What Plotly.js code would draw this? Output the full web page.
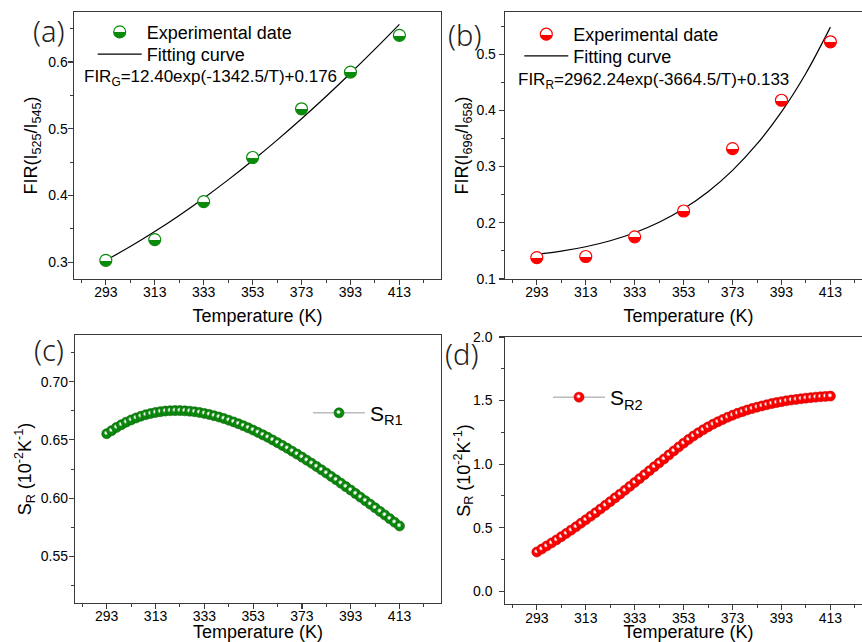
<!DOCTYPE html>
<html><head><meta charset="utf-8">
<script src="https://cdn.plot.ly/plotly-3.0.1.min.js"></script>
<style>html,body{margin:0;padding:0;overflow:hidden;background:#fff}#chart{width:880px;height:642px}</style>
</head><body><div id="chart"></div>
<script>
// ---- data ----
const tempTicks = [293,313,333,353,373,393,413];
const tempExp = [293,313,333,353,373,393,413];
const firG = [0.303,0.334,0.391,0.457,0.530,0.585,0.640];
const firR = [0.138,0.140,0.175,0.221,0.332,0.418,0.522];
const tempFit = [293,303,313,323,333,343,353,363,373,383,393,403,413];
const fitG = [0.3029,0.3236,0.3461,0.3703,0.3961,0.4235,0.4525,0.4831,0.5151,0.5485,0.5833,0.6193,0.6565];
const fitR = [0.1440,0.1496,0.1574,0.1680,0.1823,0.2009,0.2249,0.2553,0.2933,0.3402,0.3973,0.4661,0.5481];
const tempS = [293,295,297,299,301,303,305,307,309,311,313,315,317,319,321,323,325,327,329,331,333,335,337,339,341,343,345,347,349,351,353,355,357,359,361,363,365,367,369,371,373,375,377,379,381,383,385,387,389,391,393,395,397,399,401,403,405,407,409,411,413];
const sr1 = [0.6553,0.6579,0.6607,0.6630,0.6652,0.6671,0.6688,0.6703,0.6716,0.6726,0.6735,0.6742,0.6747,0.6750,0.6751,0.6751,0.6749,0.6746,0.6741,0.6735,0.6727,0.6718,0.6707,0.6696,0.6683,0.6669,0.6654,0.6638,0.6621,0.6603,0.6584,0.6564,0.6543,0.6522,0.6499,0.6476,0.6452,0.6428,0.6403,0.6378,0.6352,0.6325,0.6299,0.6271,0.6243,0.6215,0.6186,0.6158,0.6128,0.6099,0.6069,0.6039,0.6008,0.5978,0.5948,0.5917,0.5886,0.5855,0.5824,0.5793,0.5761];
const sr2 = [0.309,0.332,0.356,0.380,0.404,0.429,0.455,0.481,0.507,0.535,0.562,0.590,0.618,0.647,0.676,0.705,0.735,0.764,0.794,0.825,0.855,0.886,0.917,0.948,0.979,1.010,1.041,1.073,1.104,1.135,1.165,1.194,1.221,1.246,1.270,1.293,1.314,1.333,1.351,1.369,1.385,1.400,1.413,1.426,1.437,1.448,1.458,1.467,1.476,1.484,1.491,1.498,1.504,1.509,1.514,1.519,1.523,1.527,1.530,1.533,1.535];

const GREEN = '#0a8a0a', RED = '#ff0000';
const FONT = 'Liberation Sans, Arial, Helvetica, sans-serif';
const W = 880, H = 642;
const px = v => v / W, py = v => 1 - v / H;

const traces = [
  {x: tempFit, y: fitG, mode:'lines', line:{color:'#000', width:1.2, shape:'spline'}, name:'Fitting curve', xaxis:'x', yaxis:'y', legend:'legend5'},
  {x: tempExp, y: firG, mode:'markers', name:'Experimental date', xaxis:'x', yaxis:'y', legend:'legend',
   marker:{size:12, color:'#ffffff', line:{color:GREEN, width:1.2}, gradient:{type:'vertical', color:GREEN}}},
  {x: tempFit, y: fitR, mode:'lines', line:{color:'#000', width:1.2, shape:'spline'}, name:'Fitting curve', xaxis:'x2', yaxis:'y2', legend:'legend6'},
  {x: tempExp, y: firR, mode:'markers', name:'Experimental date', xaxis:'x2', yaxis:'y2', legend:'legend2',
   marker:{size:12, color:'#ffffff', line:{color:RED, width:1.2}, gradient:{type:'vertical', color:RED}}},
  {x: tempS, y: sr1, mode:'lines+markers', name:'S<sub>R1</sub>', xaxis:'x3', yaxis:'y3', legend:'legend3',
   line:{color:'#999', width:1}, marker:{size:10, color:GREEN, line:{color:'#0b5e0b', width:0.6}, gradient:{type:'radial', color:'#ffffff'}}},
  {x: tempS, y: sr2, mode:'lines+markers', name:'S<sub>R2</sub>', xaxis:'x4', yaxis:'y4', legend:'legend4',
   line:{color:'#999', width:1}, marker:{size:10, color:RED, line:{color:'#c80000', width:0.6}, gradient:{type:'radial', color:'#ffffff'}}}
];

function xAx(dom, anchor){
  return {domain:dom, anchor:anchor, range:[280,430], tickmode:'array', tickvals:tempTicks, ticktext:tempTicks.map(String),
    showline:true, linecolor:'#3a3a3a', linewidth:1.3, mirror:true, ticks:'outside', ticklen:5, tickwidth:1.2, tickcolor:'#3a3a3a',
    showgrid:false, zeroline:false, tickfont:{family:FONT, size:14, color:'#000'},
    minor:{ticks:'outside', ticklen:3, tickwidth:1, tickcolor:'#3a3a3a', tick0:283, dtick:10, showgrid:false},
    title:{text:'Temperature (K)', font:{family:FONT, size:18, color:'#000'}, standoff:5}};
}
function yAx(dom, anchor, range, dtick, minorD, fmt, title, standoff){
  return {domain:dom, anchor:anchor, range:range, tick0:0, dtick:dtick, tickformat:fmt,
    showline:true, linecolor:'#3a3a3a', linewidth:1.3, mirror:true, ticks:'outside', ticklen:5, tickwidth:1.2, tickcolor:'#3a3a3a',
    showgrid:false, zeroline:false, tickfont:{family:FONT, size:14, color:'#000'},
    minor:{ticks:'outside', ticklen:3, tickwidth:1, tickcolor:'#3a3a3a', dtick:minorD, showgrid:false},
    title:{text:title, font:{family:FONT, size:18, color:'#000'}, standoff:standoff}};
}
const lg = (x, y, size, w) => ({x:px(x), y:py(y), xanchor:'left', yanchor:'top', bgcolor:'rgba(0,0,0,0)',
  borderwidth:0, font:{family:FONT, size:size, color:'#000'}, tracegroupgap:0, itemwidth:w});

const labelFont = {family:'Noto Sans, sans-serif', size:29, weight:300, color:'#222'};
const layout = {
  width:W, height:H, margin:{l:0, r:0, t:0, b:0}, paper_bgcolor:'#fff', plot_bgcolor:'#fff', showlegend:true,
  xaxis: xAx([px(74), px(441)], 'y'),
  yaxis: yAx([py(279), py(12)], 'x', [0.275,0.675], 0.1, 0.05, '.1f', 'FIR(I<sub>525</sub>/I<sub>545</sub>)', 3),
  xaxis2: xAx([px(505), px(872)], 'y2'),
  yaxis2: yAx([py(279), py(12)], 'x2', [0.1,0.575], 0.1, 0.05, '.1f', 'FIR(I<sub>696</sub>/I<sub>658</sub>)', 3),
  xaxis3: xAx([px(75), px(441)], 'y3'),
  yaxis3: yAx([py(603), py(335)], 'x3', [0.51,0.74], 0.05, 0.025, '.2f', 'S<sub>R</sub> (10<sup>-2</sup>K<sup>-1</sup>)', 2),
  xaxis4: xAx([px(505), px(872)], 'y4'),
  yaxis4: yAx([py(604), py(337)], 'x4', [-0.1,2.0], 0.5, 0.25, '.1f', 'S<sub>R</sub> (10<sup>-2</sup>K<sup>-1</sup>)', 0),
  legend:  lg(92.7, 13.7, 18, 44),
  legend5: lg(92.7, 36, 18, 44),
  legend2: lg(519.3, 16, 18, 44),
  legend6: lg(519.3, 37.7, 18, 44),
  legend3: lg(308, 392.7, 21, 52),
  legend4: lg(548, 377, 21, 52),
  annotations: [
    {text:'(a)', x:px(31), y:py(30), xref:'paper', yref:'paper', xanchor:'left', yanchor:'middle', showarrow:false, font:labelFont},
    {text:'(b)', x:px(446), y:py(34), xref:'paper', yref:'paper', xanchor:'left', yanchor:'middle', showarrow:false, font:labelFont},
    {text:'(c)', x:px(32), y:py(350), xref:'paper', yref:'paper', xanchor:'left', yanchor:'middle', showarrow:false, font:labelFont},
    {text:'(d)', x:px(443), y:py(353), xref:'paper', yref:'paper', xanchor:'left', yanchor:'middle', showarrow:false, font:labelFont},
    {text:'FIR<sub>G</sub>=12.40exp(-1342.5/T)+0.176', x:px(82), y:py(78), xref:'paper', yref:'paper', xanchor:'left', yanchor:'middle', showarrow:false, font:{family:FONT, size:17, color:'#000'}},
    {text:'FIR<sub>R</sub>=2962.24exp(-3664.5/T)+0.133', x:px(516), y:py(81), xref:'paper', yref:'paper', xanchor:'left', yanchor:'middle', showarrow:false, font:{family:FONT, size:17, color:'#000'}}
  ]
};

// where the reference puts its tick labels (pixels): x-label centres and y-label right edges
const xLabelCentre = {xtick:291.7, x2tick:291.7, x3tick:616, x4tick:617.5};
const yLabelRight  = {ytick:68, y2tick:496, y3tick:68.3, y4tick:492.7};

function rebuild(g, stops){
  while (g.firstChild) g.removeChild(g.firstChild);
  stops.forEach(s => {
    const e = document.createElementNS('http://www.w3.org/2000/svg','stop');
    e.setAttribute('offset', (s[0]*100)+'%'); e.setAttribute('stop-color', s[1]); g.appendChild(e);
  });
  g.setAttribute('data-fixed','1');
}
function polish(){
  const gd = document.getElementById('chart');
  gd.querySelectorAll('linearGradient').forEach(g => {
    if (g.getAttribute('data-fixed')) return;
    const st = g.querySelectorAll('stop'); if (st.length < 2) return;
    const c0 = st[0].getAttribute('stop-color'), c1 = st[st.length-1].getAttribute('stop-color');
    rebuild(g, [[0,c0],[0.47,c0],[0.47,c1],[1,c1]]);
  });
  gd.querySelectorAll('radialGradient').forEach(g => {
    if (g.getAttribute('data-fixed')) return;
    const st = g.querySelectorAll('stop'); if (st.length < 2) return;
    const c0 = st[0].getAttribute('stop-color'), c1 = st[st.length-1].getAttribute('stop-color');
    rebuild(g, [[0,c0],[0.16,c0],[0.5,c1],[1,c1]]);
    g.setAttribute('cx','0.45'); g.setAttribute('cy','0.42');
  });
  const origin = gd.getBoundingClientRect();
  gd.querySelectorAll('.xaxislayer-above text').forEach(t => {
    const target = xLabelCentre[t.parentNode.getAttribute('class')]; if (target === undefined) return;
    const r = t.getBoundingClientRect(); const cy = (r.top + r.bottom) / 2 - origin.top;
    const d = target - cy; if (Math.abs(d) < 0.3) return;
    t.setAttribute('y', parseFloat(t.getAttribute('y') || 0) + d);
  });
  gd.querySelectorAll('.yaxislayer-above text').forEach(t => {
    const target = yLabelRight[t.parentNode.getAttribute('class')]; if (target === undefined) return;
    const r = t.getBoundingClientRect(); const rx = r.right - origin.left;
    const d = target - rx; if (Math.abs(d) < 0.3) return;
    t.setAttribute('x', parseFloat(t.getAttribute('x') || 0) + d);
  });
}
const gdiv = document.getElementById('chart');
Plotly.newPlot(gdiv, traces, layout, {staticPlot:true, displayModeBar:false}).then(() => {
  polish();
  gdiv.on('plotly_afterplot', polish);
  [30, 150, 400, 900].forEach(t => setTimeout(polish, t));
});
</script>
</body></html>
